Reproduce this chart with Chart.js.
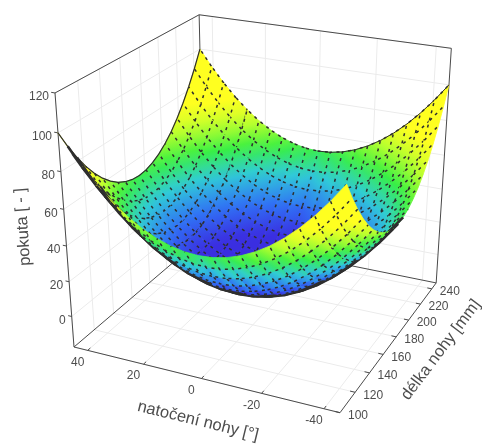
<!DOCTYPE html>
<html>
<head>
<meta charset="utf-8">
<script src="https://cdn.jsdelivr.net/npm/chart.js@4"></script>
<style>
  html, body { margin: 0; padding: 0; background: #fff; }
  canvas { display: block; }
</style>
</head>
<body>
<canvas id="chart" width="482" height="444"></canvas>
<script>
const natoceni = [-45, -40.5, -36, -31.5, -27, -22.5, -18, -13.5, -9, -4.5, 0, 4.5, 9, 13.5, 18, 22.5, 27, 31.5, 36, 40.5, 45];
const delka = [100, 107.4, 114.8, 122.2, 129.6, 137, 144.4, 151.8, 159.2, 166.6, 174, 181.4, 188.8, 196.2, 203.6, 211, 218.4, 225.8, 233.2, 240.6, 248];
// one row per delka
const pokuta = [
  [100,90.5,82,74.5,68,62.5,58,54.5,52,50.5,50,50.5,52,54.5,58,62.5,68,74.5,82,90.5,100],
  [90.5,81,72.5,65,58.5,53,48.5,45,42.5,41,40.5,41,42.5,45,48.5,53,58.5,65,72.5,81,90.5],
  [82,72.5,64,56.5,50,44.5,40,36.5,34,32.5,32,32.5,34,36.5,40,44.5,50,56.5,64,72.5,82],
  [74.5,65,56.5,49,42.5,37,32.5,29,26.5,25,24.5,25,26.5,29,32.5,37,42.5,49,56.5,65,74.5],
  [68,58.5,50,42.5,36,30.5,26,22.5,20,18.5,18,18.5,20,22.5,26,30.5,36,42.5,50,58.5,68],
  [62.5,53,44.5,37,30.5,25,20.5,17,14.5,13,12.5,13,14.5,17,20.5,25,30.5,37,44.5,53,62.5],
  [58,48.5,40,32.5,26,20.5,16,12.5,10,8.5,8,8.5,10,12.5,16,20.5,26,32.5,40,48.5,58],
  [54.5,45,36.5,29,22.5,17,12.5,9,6.5,5,4.5,5,6.5,9,12.5,17,22.5,29,36.5,45,54.5],
  [52,42.5,34,26.5,20,14.5,10,6.5,4,2.5,2,2.5,4,6.5,10,14.5,20,26.5,34,42.5,52],
  [50.5,41,32.5,25,18.5,13,8.5,5,2.5,1,0.5,1,2.5,5,8.5,13,18.5,25,32.5,41,50.5],
  [50,40.5,32,24.5,18,12.5,8,4.5,2,0.5,0,0.5,2,4.5,8,12.5,18,24.5,32,40.5,50],
  [50.5,41,32.5,25,18.5,13,8.5,5,2.5,1,0.5,1,2.5,5,8.5,13,18.5,25,32.5,41,50.5],
  [52,42.5,34,26.5,20,14.5,10,6.5,4,2.5,2,2.5,4,6.5,10,14.5,20,26.5,34,42.5,52],
  [54.5,45,36.5,29,22.5,17,12.5,9,6.5,5,4.5,5,6.5,9,12.5,17,22.5,29,36.5,45,54.5],
  [58,48.5,40,32.5,26,20.5,16,12.5,10,8.5,8,8.5,10,12.5,16,20.5,26,32.5,40,48.5,58],
  [62.5,53,44.5,37,30.5,25,20.5,17,14.5,13,12.5,13,14.5,17,20.5,25,30.5,37,44.5,53,62.5],
  [68,58.5,50,42.5,36,30.5,26,22.5,20,18.5,18,18.5,20,22.5,26,30.5,36,42.5,50,58.5,68],
  [74.5,65,56.5,49,42.5,37,32.5,29,26.5,25,24.5,25,26.5,29,32.5,37,42.5,49,56.5,65,74.5],
  [82,72.5,64,56.5,50,44.5,40,36.5,34,32.5,32,32.5,34,36.5,40,44.5,50,56.5,64,72.5,82],
  [90.5,81,72.5,65,58.5,53,48.5,45,42.5,41,40.5,41,42.5,45,48.5,53,58.5,65,72.5,81,90.5],
  [100,90.5,82,74.5,68,62.5,58,54.5,52,50.5,50,50.5,52,54.5,58,62.5,68,74.5,82,90.5,100]
];
const xTicks = [40, 20, 0, -20, -40];
const yTicks = [100, 120, 140, 160, 180, 200, 220, 240];
const zTicks = [0, 20, 40, 60, 80, 100, 120];
const xLimits = [45, -45];
const yLimits = [100, 248];
const zLimits = [-18, 120];

// colour map of the surface
const colorZ = [12, 24, 38, 50, 60, 71];
const colorRGB = [[58, 46, 224], [48, 112, 245], [48, 205, 215], [56, 240, 64], [176, 255, 48], [255, 255, 32]];

// perspective camera, fitted to the box corners in the picture
const cam = {
  ox: 74, oy: 347,
  ax: 238.8, ay: 32.7, ad: -0.08,
  bx: 167, by: -68.5, bd: 0.18,
  cx: -23.95, cy: -262.4, cd: -0.09
};

function unit(x, y, z) {
  return [
    (x - xLimits[0]) / (xLimits[1] - xLimits[0]),
    (y - yLimits[0]) / (yLimits[1] - yLimits[0]),
    (z - zLimits[0]) / (zLimits[1] - zLimits[0])
  ];
}

function project(x, y, z) {
  const [u, v, w] = unit(x, y, z);
  const d = 1 + cam.ad * u + cam.bd * v + cam.cd * w;
  return {
    x: (cam.ox + cam.ax * u + cam.bx * v + cam.cx * w) / d,
    y: (cam.oy + cam.ay * u + cam.by * v + cam.cy * w) / d
  };
}

function depth(x, y, z) {
  const [u, v, w] = unit(x, y, z);
  return 1 + cam.ad * u + cam.bd * v + cam.cd * w;
}

function colorAt(z) {
  if (z <= colorZ[0]) return `rgb(${colorRGB[0].join(",")})`;
  for (let k = 1; k < colorZ.length; k++) {
    if (z <= colorZ[k]) {
      const t = (z - colorZ[k - 1]) / (colorZ[k] - colorZ[k - 1]);
      const c = colorRGB[k].map((v, n) => Math.round(colorRGB[k - 1][n] + (v - colorRGB[k - 1][n]) * t));
      return `rgb(${c.join(",")})`;
    }
  }
  return `rgb(${colorRGB[colorRGB.length - 1].join(",")})`;
}

function line3d(from, to, color, width) {
  return {
    data: [project(...from), project(...to)],
    borderColor: color,
    borderWidth: width,
    pointRadius: 0,
    fill: false
  };
}

const canvasCtx = document.getElementById("chart").getContext("2d");

// walls, floor and box behind the surface
const datasets = [];
const GRID = "#ebebeb";
const BOX = "#4a4a4a";
const MESH = "#2e2e2e";
const [x0, x1] = xLimits, [y0, y1] = yLimits, [z0, z1] = zLimits;

xTicks.forEach((t) => {
  datasets.push(line3d([t, y0, z0], [t, y1, z0], GRID, 1));
  datasets.push(line3d([t, y1, z0], [t, y1, z1], GRID, 1));
});
yTicks.forEach((t) => {
  datasets.push(line3d([x0, t, z0], [x1, t, z0], GRID, 1));
  datasets.push(line3d([x0, t, z0], [x0, t, z1], GRID, 1));
});
zTicks.forEach((t) => {
  datasets.push(line3d([x0, y0, t], [x0, y1, t], GRID, 1));
  datasets.push(line3d([x0, y1, t], [x1, y1, t], GRID, 1));
});
[
  [[x0, y0, z0], [x1, y0, z0]], [[x1, y0, z0], [x1, y1, z0]],
  [[x0, y0, z0], [x0, y1, z0]], [[x0, y1, z0], [x1, y1, z0]],
  [[x0, y0, z0], [x0, y0, z1]], [[x0, y1, z0], [x0, y1, z1]],
  [[x1, y1, z0], [x1, y1, z1]], [[x0, y0, z1], [x0, y1, z1]],
  [[x0, y1, z1], [x1, y1, z1]]
].forEach(([a, b]) => datasets.push(line3d(a, b, BOX, 1)));

const tickSize = 0.018;
const du = (x0 - x1) * tickSize, dv = (y1 - y0) * tickSize;
xTicks.forEach((t) => datasets.push(line3d([t, y0, z0], [t, y0 + dv, z0], BOX, 1)));
yTicks.forEach((t) => datasets.push(line3d([x1, t, z0], [x1 + du, t, z0], BOX, 1)));
zTicks.forEach((t) => datasets.push(line3d([x0, y0, t], [x0 + du * 0.8, y0, t], BOX, 1)));

// surface cells, far ones first
const cells = [];
for (let j = 0; j < delka.length - 1; j++) {
  for (let i = 0; i < natoceni.length - 1; i++) {
    const corners = [[i, j], [i + 1, j], [i + 1, j + 1], [i, j + 1]].map(([a, b]) => ({
      x: natoceni[a], y: delka[b], z: pokuta[b][a]
    }));
    const mid = corners.reduce((s, c) => s + depth(c.x, c.y, c.z), 0) / 4;
    cells.push({ i, j, corners, mid });
  }
}
cells.sort((a, b) => b.mid - a.mid);

// the x and y scales run 1:1 with the canvas pixels
function cellFill(cell) {
  const sorted = [...cell.corners].sort((a, b) => a.z - b.z);
  const lo = sorted[0], hi = sorted[3];
  const p = project(lo.x, lo.y, lo.z), q = project(hi.x, hi.y, hi.z);
  const g = canvasCtx.createLinearGradient(p.x, p.y, q.x, q.y);
  g.addColorStop(0, colorAt(lo.z));
  g.addColorStop(0.5, colorAt((lo.z + hi.z) / 2));
  g.addColorStop(1, colorAt(hi.z));
  return g;
}

function cellArea(pts) {
  let a = 0;
  pts.forEach((p, n) => {
    const q = pts[(n + 1) % pts.length];
    a += p.x * q.y - q.x * p.y;
  });
  return Math.abs(a) / 2;
}

cells.forEach((cell) => {
  const pts = cell.corners.map((c) => project(c.x, c.y, c.z));
  const fillColor = cellFill(cell);
  datasets.push({
    data: [...pts, pts[0]],
    backgroundColor: fillColor,
    borderColor: fillColor,
    borderWidth: 0.8,
    pointRadius: 0,
    fill: "shape"
  });
  const grazing = cellArea(pts) < 42;
  // mesh edges on the far side of the cell stay uncovered by the nearer cells
  const [a, b, c, d] = cell.corners;
  const sideFar = depth(b.x, b.y, b.z) + depth(c.x, c.y, c.z) > depth(a.x, a.y, a.z) + depth(d.x, d.y, d.z);
  const mesh = sideFar ? [pts[1], pts[2], pts[3]] : [pts[2], pts[3], pts[0]];
  datasets.push({
    data: mesh,
    borderColor: MESH,
    borderWidth: grazing ? 2.6 : 1.5,
    borderDash: grazing ? [] : [3, 4.5],
    borderDashOffset: (cell.i * 7 + cell.j * 13) % 7.5,
    pointRadius: 0,
    fill: false
  });
});

// dark rims of the surface
datasets.push({
  data: delka.map((y, j) => project(natoceni[20], y, pokuta[j][20])),
  borderColor: MESH, borderWidth: 1.2, pointRadius: 0, fill: false
});
datasets.push({
  data: natoceni.slice(0, 11).map((x, i) => project(x, delka[20], pokuta[20][i])),
  borderColor: MESH, borderWidth: 1, pointRadius: 0, fill: false
});

const textColor = "#4d4d4d";
const axisText = {
  id: "axisText",
  afterDraw(chart) {
    const { ctx, scales } = chart;
    const at = (p) => [scales.x.getPixelForValue(p.x), scales.y.getPixelForValue(p.y)];
    ctx.save();
    ctx.fillStyle = textColor;
    ctx.textBaseline = "middle";
    ctx.font = '12px "Liberation Sans"';
    ctx.textAlign = "right";
    zTicks.forEach((t) => {
      const [px, py] = at(project(x0, y0, t));
      ctx.fillText(String(t), px - 6, py + 4);
    });
    ctx.textAlign = "center";
    xTicks.forEach((t) => {
      const [px, py] = at(project(t, y0, z0));
      ctx.fillText(String(t), px - 10, py + 12);
    });
    ctx.textAlign = "left";
    yTicks.forEach((t) => {
      const [px, py] = at(project(x1, t, z0));
      ctx.fillText(String(t), px + 8, py + 3);
    });
    ctx.textAlign = "center";
    ctx.font = '16.5px "Liberation Sans"';
    [
      ["pokuta [ - ]", 23, 227, -94],
      ["natočení nohy [°]", 198, 421, 13.7],
      ["délka nohy [mm]", 441, 350, -53]
    ].forEach(([label, tx, ty, angle]) => {
      ctx.save();
      ctx.translate(tx, ty);
      ctx.rotate((angle * Math.PI) / 180);
      ctx.fillText(label, 0, 0);
      ctx.restore();
    });
    ctx.restore();
  }
};

new Chart(canvasCtx, {
  type: "line",
  data: { datasets: datasets.reverse() },
  options: {
    responsive: false,
    animation: false,
    events: [],
    layout: { padding: 0 },
    elements: { line: { tension: 0 } },
    plugins: { legend: { display: false }, tooltip: { enabled: false } },
    scales: {
      x: { type: "linear", min: 0, max: 482, display: false },
      y: { type: "linear", min: 0, max: 444, reverse: true, display: false }
    }
  },
  plugins: [axisText]
});
</script>
</body>
</html>
